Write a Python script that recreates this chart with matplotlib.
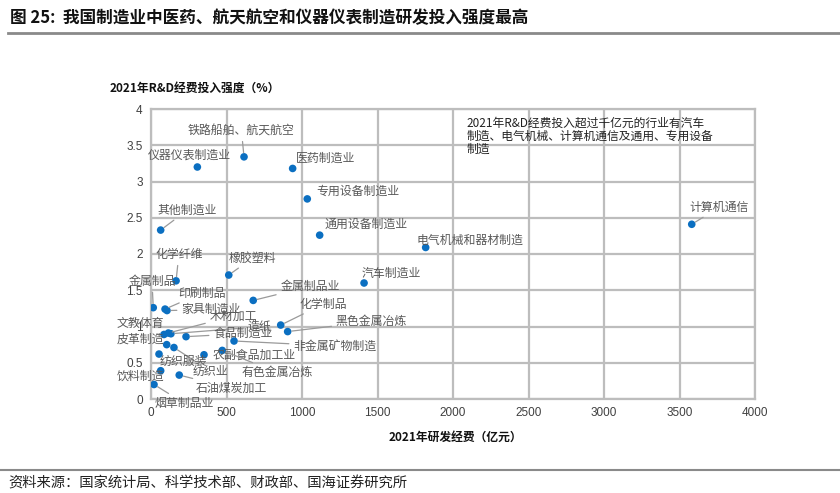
import matplotlib.pyplot as plt
import numpy as np

plt.rcParams['font.family'] = ['Noto Sans CJK SC', 'DejaVu Sans']

# 2021年各制造业研发经费（亿元）与研发投入强度（%）
industries = ['计算机通信', '电气机械和器材制造', '汽车制造业', '通用设备制造业', '专用设备制造业',
              '医药制造业', '铁路船舶、航天航空', '仪器仪表制造业', '其他制造业', '化学纤维',
              '橡胶塑料', '金属制品业', '金属制品', '印刷制品', '家具制造业',
              '化学制品', '黑色金属冶炼', '文教体育', '木材加工', '造纸',
              '食品制造业', '皮革制造', '纺织业', '纺织服装', '农副食品加工业',
              '有色金属冶炼', '非金属矿物制造', '饮料制造', '石油煤炭加工', '烟草制品业']
rd_spend = [3581, 1819, 1411, 1117, 1035,
            938, 616, 307, 64, 166,
            515, 677, 15, 93, 106,
            859, 905, 86, 115, 132,
            232, 104, 152, 53, 351,
            472, 550, 64, 187, 20]
rd_intensity = [2.41, 2.09, 1.60, 2.26, 2.76,
                3.18, 3.34, 3.20, 2.33, 1.63,
                1.71, 1.36, 1.26, 1.24, 1.22,
                1.02, 0.93, 0.89, 0.91, 0.90,
                0.86, 0.75, 0.71, 0.62, 0.61,
                0.67, 0.80, 0.39, 0.33, 0.20]

# label placement: offset in pixels from the point (left-center of label), and leader line or not
label_offsets = [(-2, 17, True), (-9, 7, False), (-2, 10, False), (5, 11, False), (9, 8, False),
                 (3, 10, False), (-56, 26, True), (-50, 12, False), (-3, 20, True), (-21, 26, True),
                 (0, 17, True), (27, 14, True), (-25, 26, True), (13, 16, True), (14, 1, True),
                 (19, 21, True), (48, 10, True), (-47, 11, False), (41, 17, True), (77, 7, True),
                 (27, 3, True), (-50, 5, False), (19, -24, True), (1, -7, False), (9, 0, False),
                 (19, -22, True), (59, -5, True), (-44, -6, False), (16, -13, True), (1, -19, True)]

fig = plt.figure(figsize=(8.4, 4.93), dpi=100)
ax = fig.add_axes([151 / 840, 1 - 399 / 493, 604 / 840, 290 / 493])

ax.scatter(rd_spend, rd_intensity, s=30, color='#0b6fc1', zorder=3, edgecolors='none')

for name, x, y, (dx, dy, leader) in zip(industries, rd_spend, rd_intensity, label_offsets):
    kw = {}
    if leader:
        kw['arrowprops'] = dict(arrowstyle='-', color='#9a9a9a', lw=0.9, shrinkA=1, shrinkB=3)
    ax.annotate(name, (x, y), xytext=(dx, dy), textcoords='offset pixels',
                ha='left', va='center', fontsize=8.6, color='#595959', zorder=4, **kw)

ax.set_xlim(0, 4000)
ax.set_ylim(0, 4)
ax.set_xticks(np.arange(0, 4001, 500))
ax.set_yticks(np.arange(0, 4.01, 0.5))
ax.set_yticklabels(['0', '0.5', '1', '1.5', '2', '2.5', '3', '3.5', '4'])
ax.grid(True, color='#bdbdbd', lw=1.6, zorder=0)
ax.set_axisbelow(True)
for s in ax.spines.values():
    s.set_color('#bdbdbd')
    s.set_linewidth(1.6)
ax.tick_params(length=0, labelsize=8.5, colors='#404040', pad=6)
for t in ax.get_xticklabels() + ax.get_yticklabels():
    t.set_family(['Liberation Sans', 'DejaVu Sans'])

ax.text(0.522, 0.975, '2021年R&D经费投入超过千亿元的行业有汽车\n制造、电气机械、计算机通信及通用、专用设备\n制造',
        transform=ax.transAxes, ha='left', va='top', fontsize=8.5, color='#222222', linespacing=1.05)

fig.text(10 / 840, 1 - 18 / 493, '图 25:  我国制造业中医药、航天航空和仪器仪表制造研发投入强度最高',
         ha='left', va='center', fontsize=12, fontweight='bold', color='#111111')
fig.add_artist(plt.Line2D([8 / 840, 1], [1 - 33 / 493] * 2, color='#8a8a8a', lw=2))
fig.text(110 / 840, 1 - 88 / 493, '2021年R&D经费投入强度（%）', ha='left', va='center',
         fontsize=8.5, fontweight='bold', color='#111111')
fig.text(455 / 840, 1 - 437 / 493, '2021年研发经费（亿元）', ha='center', va='center',
         fontsize=8.5, fontweight='bold', color='#111111')
fig.add_artist(plt.Line2D([0, 1], [1 - 470 / 493] * 2, color='#8a8a8a', lw=1.5))
fig.text(8 / 840, 1 - 484 / 493, '资料来源：国家统计局、科学技术部、财政部、国海证券研究所',
         ha='left', va='center', fontsize=10.3, color='#222222')

fig.savefig('out.png', dpi=100)
